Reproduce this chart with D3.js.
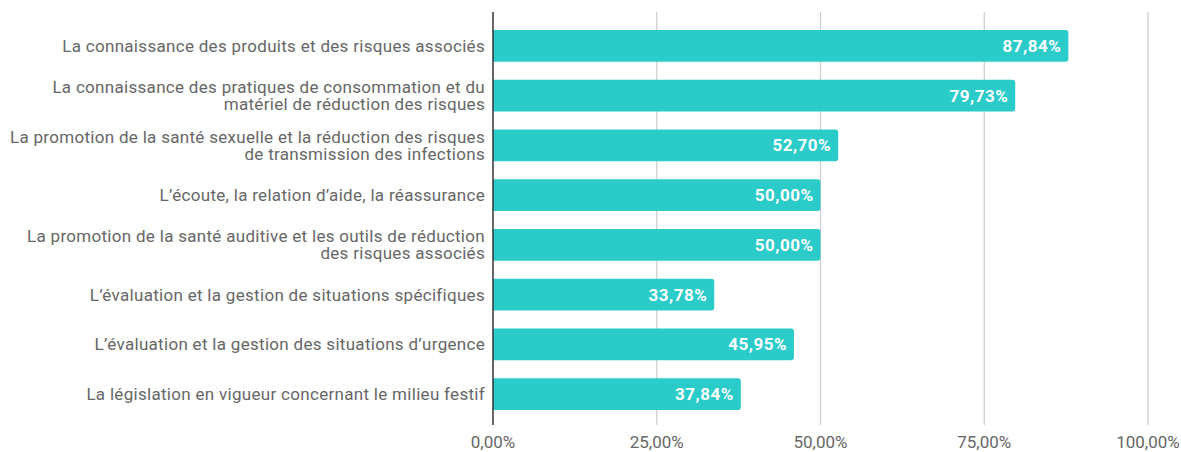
<!DOCTYPE html>
<html><head><meta charset="utf-8">
<script src="https://cdn.jsdelivr.net/npm/d3@7"></script>
<style>body{margin:0;background:#fff;}svg{display:block;font-family:Roboto,sans-serif;}</style>
</head><body><svg id="c" width="1181" height="452"></svg>
<script>
const categories = [
  ["La connaissance des produits et des risques associés"],
  ["La connaissance des pratiques de consommation et du", "matériel de réduction des risques"],
  ["La promotion de la santé sexuelle et la réduction des risques", "de transmission des infections"],
  ["L’écoute, la relation d’aide, la réassurance"],
  ["La promotion de la santé auditive et les outils de réduction", "des risques associés"],
  ["L’évaluation et la gestion de situations spécifiques"],
  ["L’évaluation et la gestion des situations d’urgence"],
  ["La législation en vigueur concernant le milieu festif"]
];
const values = [87.84, 79.73, 52.70, 50.00, 50.00, 33.78, 45.95, 37.84];
const ticks = [0, 25, 50, 75, 100];

const svg = d3.select("#c");
const x = d3.scaleLinear().domain([0, 100]).range([493, 1148]);
const y = d3.scaleBand().domain(d3.range(values.length)).range([21, 419]).paddingInner(0.36).paddingOuter(0.18);
const fmt = v => v.toFixed(2).replace(".", ",") + "%";

// gridlines
svg.append("g").selectAll("line").data(ticks.slice(1)).join("line")
  .attr("x1", d => x(d)).attr("x2", d => x(d)).attr("y1", 12).attr("y2", 425)
  .attr("stroke", "#cccccc").attr("stroke-width", 1.2);

// tick labels
svg.append("g").selectAll("text").data(ticks).join("text")
  .attr("x", d => x(d)).attr("y", 448).attr("text-anchor", "middle")
  .attr("font-size", 17).attr("fill", "#666").text(d => d.toFixed(2).replace(".", ",") + "%");

// bars with rounded right corners
const r = 3;
svg.append("g").selectAll("path").data(values).join("path")
  .attr("fill", "#2bcbc9")
  .attr("d", (d, i) => {
    const x0 = x(0), x1 = x(d), y0 = y(i), h = y.bandwidth();
    return `M${x0},${y0}H${x1 - r}Q${x1},${y0} ${x1},${y0 + r}V${y0 + h - r}Q${x1},${y0 + h} ${x1 - r},${y0 + h}H${x0}Z`;
  });

// value labels
svg.append("g").selectAll("text").data(values).join("text")
  .attr("x", d => x(d) - 7).attr("y", (d, i) => y(i) + y.bandwidth() / 2 + 6)
  .attr("text-anchor", "end").attr("font-size", 17).attr("font-weight", "bold")
  .attr("letter-spacing", 0.5)
  .attr("fill", "#fff").text(fmt);

// axis line
svg.append("line").attr("x1", x(0)).attr("x2", x(0)).attr("y1", 12).attr("y2", 425)
  .attr("stroke", "#333").attr("stroke-width", 1.5);

// category labels
const lab = svg.append("g").selectAll("text").data(categories).join("text")
  .attr("text-anchor", "end").attr("font-size", 17).attr("fill", "#666")
  .attr("letter-spacing", 0.3)
  .attr("transform", (d, i) => `translate(485,${y(i) + y.bandwidth() / 2})`);
lab.selectAll("tspan").data(d => d.map((t, k) => ({t, k, n: d.length}))).join("tspan")
  .attr("x", 0).attr("y", d => (d.k - (d.n - 1) / 2) * 17 + 6).text(d => d.t);
</script></body></html>
